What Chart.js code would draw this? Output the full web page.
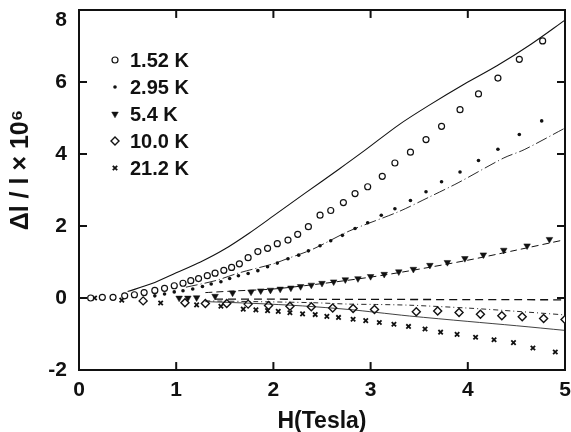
<!DOCTYPE html>
<html>
<head>
<meta charset="utf-8">
<script src="https://cdn.jsdelivr.net/npm/chart.js@4.4.1/dist/chart.umd.min.js"></script>
<style>
  html, body { margin: 0; padding: 0; background: #fff; }
  canvas { display: block; }
</style>
</head>
<body>
<canvas id="c" width="571" height="432"></canvas>
<script>
'use strict';

// measured points, H in Tesla, dl/l in units of 1e-6
const labels = ['1.52 K', '2.95 K', '5.4 K', '10.0 K', '21.2 K'];

const h152 = [0.12, 0.24, 0.35, 0.47, 0.57, 0.67, 0.78, 0.88, 0.98, 1.07, 1.15, 1.23, 1.32, 1.40, 1.49, 1.57, 1.65, 1.74, 1.84, 1.94, 2.04, 2.15, 2.25, 2.36, 2.48, 2.59, 2.72, 2.84, 2.97, 3.12, 3.25, 3.41, 3.57, 3.73, 3.92, 4.11, 4.31, 4.53, 4.77];
const v152 = [0.0, 0.02, 0.02, 0.06, 0.09, 0.15, 0.21, 0.27, 0.34, 0.41, 0.48, 0.54, 0.62, 0.69, 0.77, 0.85, 0.95, 1.12, 1.29, 1.38, 1.51, 1.61, 1.77, 1.98, 2.30, 2.43, 2.65, 2.90, 3.09, 3.38, 3.75, 4.05, 4.40, 4.77, 5.23, 5.67, 6.11, 6.63, 7.14];

const h295 = [0.78, 0.88, 0.98, 1.07, 1.17, 1.27, 1.36, 1.46, 1.55, 1.64, 1.74, 1.84, 1.94, 2.04, 2.15, 2.26, 2.36, 2.48, 2.59, 2.71, 2.84, 2.97, 3.11, 3.25, 3.41, 3.57, 3.73, 3.92, 4.11, 4.31, 4.53, 4.76];
const v295 = [0.06, 0.11, 0.17, 0.20, 0.25, 0.32, 0.39, 0.45, 0.54, 0.62, 0.68, 0.76, 0.87, 0.97, 1.09, 1.19, 1.31, 1.45, 1.59, 1.74, 1.93, 2.09, 2.30, 2.48, 2.71, 2.95, 3.23, 3.50, 3.82, 4.13, 4.54, 4.92];

const h54 = [1.03, 1.12, 1.21, 1.40, 1.58, 1.77, 1.87, 1.97, 2.07, 2.18, 2.28, 2.39, 2.50, 2.62, 2.74, 2.87, 3.00, 3.14, 3.29, 3.44, 3.61, 3.79, 3.97, 4.16, 4.37, 4.61, 4.84];
const v54 = [0.0, 0.0, 0.01, 0.05, 0.14, 0.17, 0.20, 0.22, 0.25, 0.28, 0.32, 0.36, 0.41, 0.45, 0.51, 0.54, 0.60, 0.66, 0.73, 0.80, 0.91, 0.99, 1.10, 1.20, 1.33, 1.45, 1.63];

const h100 = [0.66, 1.09, 1.30, 1.52, 1.74, 1.95, 2.17, 2.39, 2.61, 2.82, 3.04, 3.47, 3.69, 3.91, 4.13, 4.35, 4.56, 4.78, 5.0];
const v100 = [-0.08, -0.13, -0.15, -0.15, -0.17, -0.21, -0.23, -0.24, -0.28, -0.29, -0.32, -0.38, -0.36, -0.40, -0.45, -0.49, -0.52, -0.57, -0.60];

const h212 = [0.16, 0.44, 0.84, 1.21, 1.46, 1.69, 1.82, 1.94, 2.05, 2.17, 2.30, 2.43, 2.55, 2.67, 2.82, 2.95, 3.09, 3.24, 3.39, 3.56, 3.72, 3.89, 4.08, 4.27, 4.47, 4.67, 4.90];
const v212 = [0.0, -0.06, -0.14, -0.19, -0.23, -0.31, -0.33, -0.35, -0.37, -0.41, -0.44, -0.46, -0.51, -0.54, -0.59, -0.63, -0.68, -0.73, -0.79, -0.86, -0.95, -1.01, -1.09, -1.16, -1.24, -1.39, -1.50];

// calculated curves
const hFit152 = [0.5, 0.75, 1.0, 1.25, 1.5, 1.75, 2.0, 2.33, 2.67, 2.95, 3.29, 3.6, 3.97, 4.3, 4.65, 5.0];
const vFit152 = [0.18, 0.40, 0.70, 1.00, 1.36, 1.80, 2.28, 2.92, 3.57, 4.12, 4.81, 5.35, 5.95, 6.45, 7.05, 7.72];

const hFit295 = [1.1, 1.4, 1.65, 2.0, 2.13, 2.4, 2.78, 3.29, 3.6, 3.9, 4.37, 4.58, 5.0];
const vFit295 = [0.30, 0.48, 0.70, 0.95, 1.08, 1.35, 1.86, 2.40, 2.80, 3.20, 3.89, 4.12, 4.72];

const hFit54 = [1.3, 1.63, 2.0, 2.5, 3.0, 3.39, 4.0, 4.5, 5.0];
const vFit54 = [0.15, 0.20, 0.25, 0.40, 0.58, 0.75, 1.05, 1.33, 1.62];

const hZero = [1.4, 5.0];
const vZero = [-0.03, -0.05];

const hFit100 = [1.3, 1.8, 2.4, 2.78, 3.06, 3.4, 4.0, 4.5, 5.0];
const vFit100 = [-0.08, -0.10, -0.13, -0.17, -0.18, -0.20, -0.28, -0.37, -0.47];

const hFit212 = [1.3, 1.8, 2.3, 2.78, 3.06, 3.4, 4.0, 4.5, 5.0];
const vFit212 = [-0.10, -0.15, -0.22, -0.32, -0.40, -0.50, -0.65, -0.77, -0.90];

const xTicks = [0, 1, 2, 3, 4, 5];
const yTicks = [-2, 0, 2, 4, 6, 8];
const xMin = 0, xMax = 5, yMin = -2, yMax = 8;
// inward tick length in axis units (about 8 px)
const tickLenX = 0.082, tickLenY = 0.22;

const FONT = 'Liberation Sans, Arial, sans-serif';
const INK = '#111';

function pts(h, v) {
    return h.map((x, i) => ({ x: x, y: v[i] }));
}

function curve(h, v, dash, width) {
    return {
        data: pts(h, v),
        showLine: true,
        pointRadius: 0,
        borderColor: INK,
        borderWidth: width || 1,
        borderDash: dash,
        fill: false,
        tension: 0.3,
    };
}

const marks = [
    { h: h152, v: v152, style: 'circle', r: 3, bg: '#fff', bw: 1.2 },
    { h: h295, v: v295, style: 'circle', r: 1.8, bg: INK, bw: 0 },
    { h: h54, v: v54, style: 'triangle', r: 3.8, bg: INK, bw: 0.5, rot: 180 },
    { h: h100, v: v100, style: 'rectRot', r: 4, bg: '#fff', bw: 1.4 },
    { h: h212, v: v212, style: 'crossRot', r: 3.1, bg: INK, bw: 1.8 },
];

const pointSets = marks.map((m, i) => ({
    label: labels[i],
    data: pts(m.h, m.v),
    showLine: false,
    pointStyle: m.style,
    pointRadius: m.r,
    pointRotation: m.rot || 0,
    pointBackgroundColor: m.bg,
    pointBorderColor: INK,
    pointBorderWidth: m.bw,
}));

const curveSets = [
    curve(hFit152, vFit152, [], 1.1),
    curve(hFit295, vFit295, [12, 3, 1, 3], 0.9),
    curve(hFit54, vFit54, [7, 4], 1),
    curve(hZero, vZero, [8, 5], 1.3),
    curve(hFit100, vFit100, [5, 3, 1, 3], 0.9),
    curve(hFit212, vFit212, [], 0.8),
];

// inward tick marks as short 'line' markers sitting just inside the box
const vTickPts = [];
xTicks.slice(1, -1).forEach(t => {
    vTickPts.push({ x: t, y: yMin + tickLenY / 2 }, { x: t, y: yMax - tickLenY / 2 });
});
const hTickPts = [];
yTicks.slice(1, -1).forEach(t => {
    hTickPts.push({ x: xMin + tickLenX / 2, y: t }, { x: xMax - tickLenX / 2, y: t });
});
const tickSets = [[vTickPts, 90], [hTickPts, 0]].map(([d, rot]) => ({
    data: d,
    showLine: false,
    pointStyle: 'line',
    pointRadius: 4,
    pointRotation: rot,
    pointBorderColor: INK,
    pointBackgroundColor: INK,
    pointBorderWidth: 2,
    clip: false,
}));

// the top "8" sits a little below its tick in the original
const nudgeTop = {
    id: 'nudgeTop',
    beforeDraw(chart) {
        chart.scales.y.getLabelItems().forEach(it => {
            if (it.label === '8' && !it._moved) {
                it.options.translation[1] += 10;
                it._moved = true;
            }
        });
    },
};

// in-plot legend and rotated y title
const decor = {
    id: 'decor',
    afterDraw(chart) {
        const ctx = chart.ctx;
        ctx.save();
        ctx.font = 'bold 20px ' + FONT;
        ctx.textBaseline = 'middle';
        labels.forEach((txt, i) => {
            const y = 60 + i * 27;
            const m = marks[i];
            ctx.fillStyle = m.bg;
            ctx.strokeStyle = INK;
            ctx.lineWidth = m.bw;
            Chart.helpers.drawPoint(ctx, {
                pointStyle: m.style,
                radius: m.r,
                rotation: m.rot || 0,
                borderWidth: m.bw,
            }, 115, y);
            ctx.fillStyle = INK;
            ctx.fillText(txt, 130, y + 1);
        });

        ctx.translate(21, 170);
        ctx.rotate(-Math.PI / 2);
        ctx.textAlign = 'center';
        ctx.textBaseline = 'middle';
        ctx.font = 'bold 25px ' + FONT;
        ctx.fillText('\u0394l / l \u00d7 10\u2076', 0, 0);
        ctx.restore();
    },
};

const tickFont = { family: FONT, size: 21, weight: 'bold' };
const noGrid = { display: true, drawOnChartArea: false, drawTicks: false, lineWidth: 2, color: INK };
const frameBorder = { display: true, width: 2, color: INK };

new Chart(document.getElementById('c'), {
    type: 'scatter',
    data: { datasets: tickSets.concat(curveSets, pointSets) },
    options: {
        responsive: false,
        animation: false,
        layout: { padding: { top: 10, right: 4, left: 0, bottom: 0 } },
        plugins: { legend: { display: false }, tooltip: { enabled: false } },
        scales: {
            x: {
                type: 'linear', position: 'bottom', min: xMin, max: xMax,
                afterFit: s => { s.height = 62; s.paddingLeft = 0; s.paddingRight = 0; },
                grid: noGrid,
                border: frameBorder,
                ticks: { stepSize: 1, padding: 8, color: INK, font: tickFont },
                title: { display: true, text: 'H(Tesla)', color: INK, padding: { top: 0, bottom: -3 }, font: { family: FONT, size: 23, weight: 'bold' } },
            },
            x3: {
                type: 'linear', position: 'bottom', weight: -1, min: xMin, max: xMax,
                afterFit: s => { s.height = 0; s.paddingLeft = 0; s.paddingRight = 0; },
                grid: noGrid,
                border: frameBorder,
                ticks: { stepSize: 1, display: false },
            },
            x2: {
                type: 'linear', position: 'top', min: xMin, max: xMax,
                afterFit: s => { s.height = 0; s.paddingLeft = 0; s.paddingRight = 0; },
                grid: noGrid,
                border: frameBorder,
                ticks: { stepSize: 1, display: false },
            },
            y: {
                type: 'linear', position: 'left', min: yMin, max: yMax,
                afterFit: s => { s.width = 79; s.paddingTop = 0; s.paddingBottom = 0; },
                grid: noGrid,
                border: frameBorder,
                ticks: { stepSize: 2, padding: 12, color: INK, font: tickFont },
            },
            y2: {
                type: 'linear', position: 'right', min: yMin, max: yMax,
                afterFit: s => { s.width = 0; s.paddingTop = 0; s.paddingBottom = 0; },
                grid: noGrid,
                border: frameBorder,
                ticks: { stepSize: 2, display: false },
            },
        },
    },
    plugins: [nudgeTop, decor],
});
</script>
</body>
</html>
